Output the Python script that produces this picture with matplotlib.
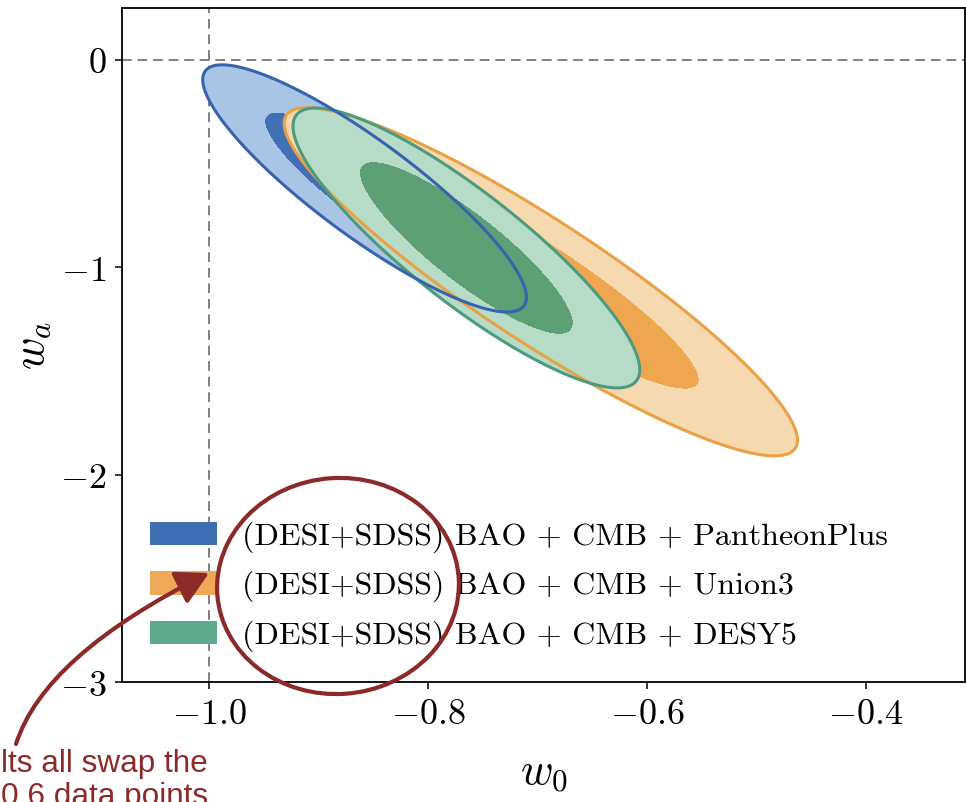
import numpy as np
import matplotlib
matplotlib.use("Agg")
import matplotlib.pyplot as plt
from matplotlib.patches import Patch, Ellipse, FancyArrowPatch
from matplotlib.path import Path

plt.rcParams["mathtext.fontset"] = "cm"

# ---- posterior summaries (w0, wa) for each data combination ----
labels = [
    "(DESI+SDSS) BAO + CMB + PantheonPlus",
    "(DESI+SDSS) BAO + CMB + Union3",
    "(DESI+SDSS) BAO + CMB + DESY5",
]
w0_mean = [-0.858, -0.697, -0.765]
wa_mean = [-0.620, -1.070, -0.907]
w0_sigma = [0.0604, 0.0958, 0.0647]
wa_sigma = [0.2435, 0.3430, 0.2757]
corr = [-0.88, -0.91, -0.87]
conf_levels = [0.68, 0.95]

x_ticks = [-1.0, -0.8, -0.6, -0.4]
y_ticks = [0, -1, -2, -3]
x_tick_labels = [r"$-1.0$", r"$-0.8$", r"$-0.6$", r"$-0.4$"]
y_tick_labels = [r"$0$", r"$-1$", r"$-2$", r"$-3$"]
x_lim = (-1.0796, -0.309)
y_lim = (-3.0, 0.25)
ref_w0, ref_wa = -1.0, 0.0

# colours: (outer fill, inner fill, edge, legend)
fill_outer = ["#a9c5e6", "#f6d9ae", "#b6dcc7"]
fill_inner = ["#4170b7", "#eea64f", "#5ea075"]
edge_col = ["#3764ad", "#e9a144", "#4c9b80"]
legend_col = ["#3f6eb5", "#eea857", "#5ea88b"]

fig = plt.figure(figsize=(9.66, 8.02), dpi=100)
ax = fig.add_axes([122 / 966, (802 - 682) / 802, (965.5 - 122) / 966, (682 - 8) / 802])

gx = np.linspace(x_lim[0], x_lim[1], 700)
gy = np.linspace(y_lim[0], y_lim[1], 700)
X, Y = np.meshgrid(gx, gy)

chi_levels = [-2 * np.log(1 - p) for p in conf_levels]


def chi2(i):
    dx = (X - w0_mean[i]) / w0_sigma[i]
    dy = (Y - wa_mean[i]) / wa_sigma[i]
    r = corr[i]
    return (dx ** 2 - 2 * r * dx * dy + dy ** 2) / (1 - r ** 2)


fields = [chi2(i) for i in range(len(labels))]
for i, Z in enumerate(fields):
    ax.contourf(X, Y, Z, levels=[0, chi_levels[0], chi_levels[1]],
                colors=[fill_inner[i], fill_outer[i]], zorder=2 + i)
for i in [1, 2, 0]:
    ax.contour(X, Y, fields[i], levels=[chi_levels[1]], colors=[edge_col[i]],
               linewidths=2.2, zorder=6)

ax.axvline(ref_w0, color="#808080", lw=1.4, dashes=(5, 3), zorder=1)
ax.axhline(ref_wa, color="#808080", lw=1.4, dashes=(5, 3), zorder=1)

ax.set_xlim(*x_lim)
ax.set_ylim(*y_lim)
ax.set_xticks(x_ticks, x_tick_labels)
ax.set_yticks(y_ticks, y_tick_labels)
ax.tick_params(labelsize=26, length=5, width=1.1, pad=6)
for s in ax.spines.values():
    s.set_linewidth(1.3)

ax.set_xlabel(r"$w_0$", fontsize=32, labelpad=14)
ax.set_ylabel(r"$w_a$", fontsize=32, labelpad=5)

handles = [Patch(facecolor=c, edgecolor="none") for c in legend_col]
ax.legend(handles, labels, loc="lower left", bbox_to_anchor=(0.033, 0.045),
          borderaxespad=0, borderpad=0, frameon=False,
          prop={"family": "cmr10", "size": 23},
          handlelength=2.1, handleheight=0.75, handletextpad=0.8,
          labelspacing=0.56)

# ---- hand-drawn highlight on top ----
maroon = "#8c2a2a"
ov = fig.add_axes([0, 0, 1, 1], facecolor="none", zorder=10)
ov.set_xlim(0, 966)
ov.set_ylim(802, 0)
ov.axis("off")
ov.add_patch(Ellipse((338, 586), 242, 216, angle=-4, fill=False,
                     edgecolor=maroon, lw=3.0))
arrow_path = Path([(16, 744), (44, 656), (209, 573)],
                  [Path.MOVETO, Path.CURVE3, Path.CURVE3])
ov.add_patch(FancyArrowPatch(path=arrow_path,
                             arrowstyle="-|>,head_length=0.55,head_width=0.3",
                             mutation_scale=36, color=maroon, lw=3.0))
ov.text(1, 772, "lts all swap the", ha="left", va="baseline",
        fontsize=22.7, family="Liberation Sans", color=maroon)
ov.text(1, 805, "0.6 data points", ha="left", va="baseline",
        fontsize=22.7, family="Liberation Sans", color=maroon)

fig.savefig("out.png", dpi=100)
